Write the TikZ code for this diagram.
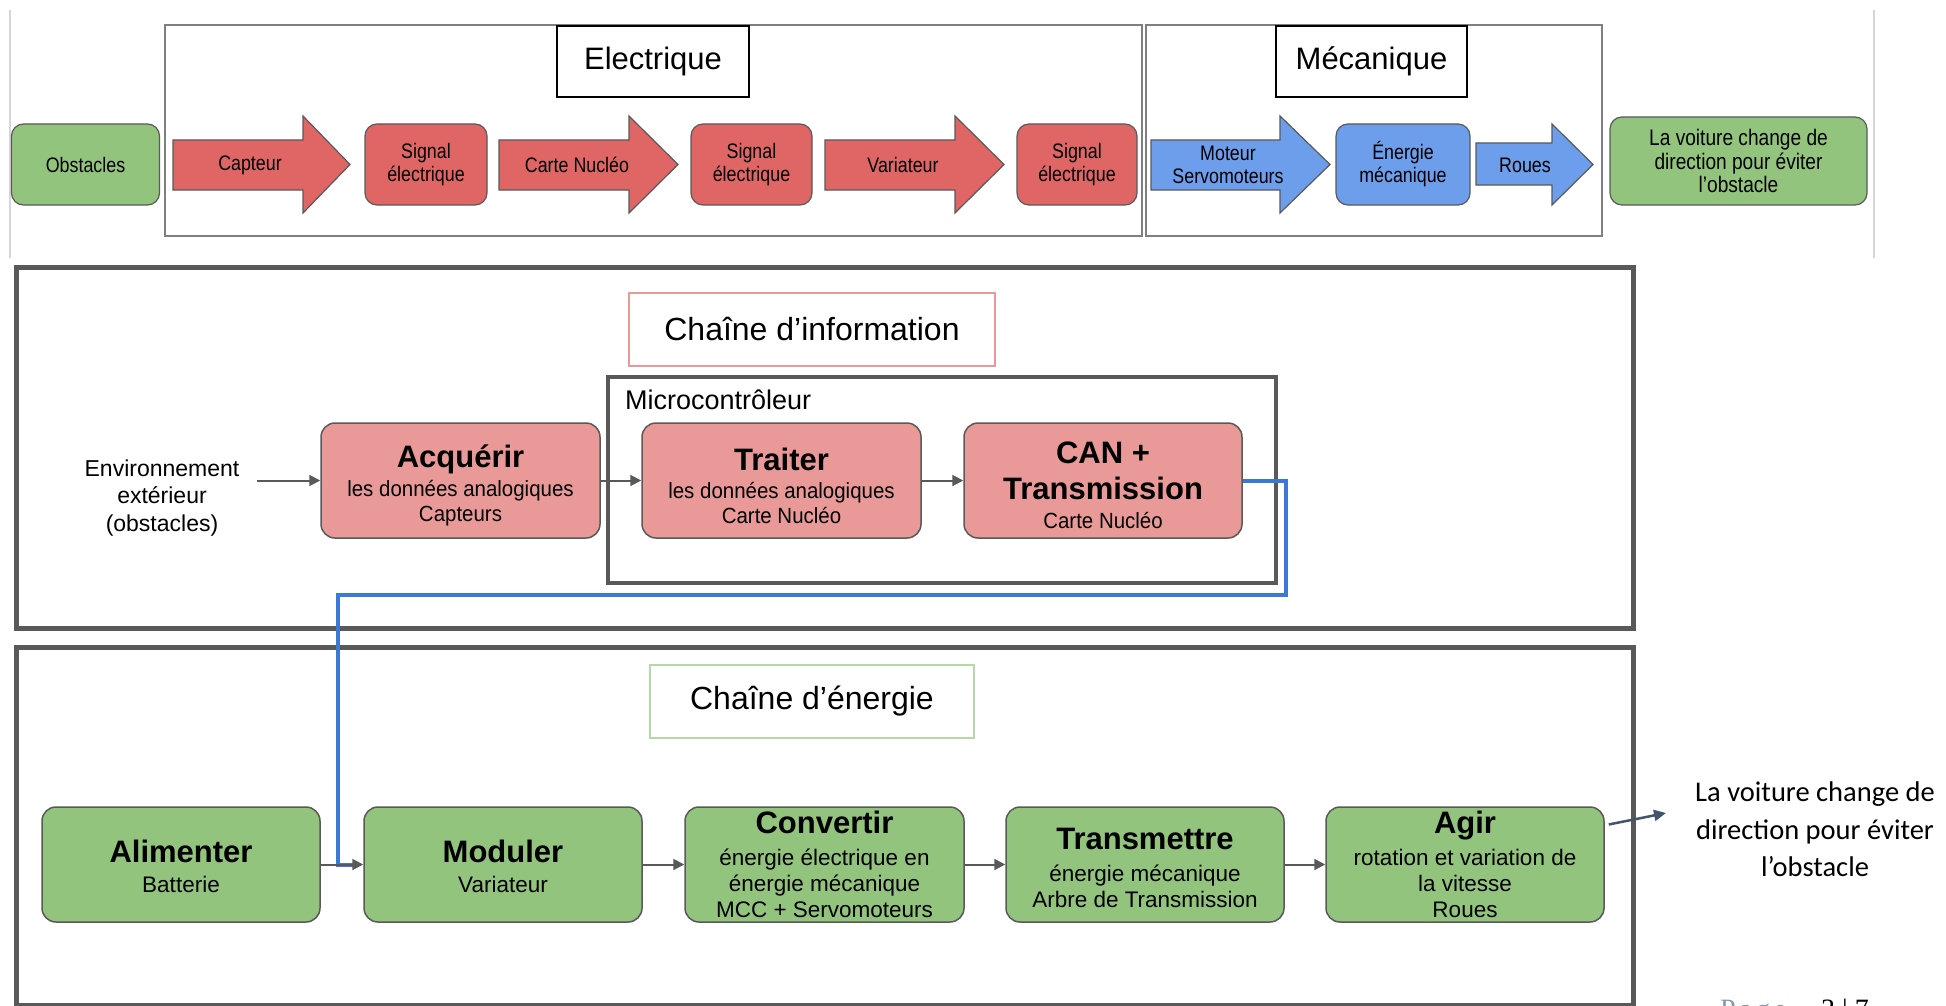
\documentclass[tikz,border=0pt]{standalone}
\usepackage{fontspec}
\setmainfont{Liberation Sans}
\newfontfamily\narrowfont[FakeStretch=0.85]{Liberation Sans}
\newfontfamily\infofont[FakeStretch=0.93]{Liberation Sans}
\newfontfamily\calibfont{Carlito}
\newfontfamily\pagefont[LetterSpace=14]{Liberation Serif}
\newfontfamily\pagenumfont{Liberation Serif}
\usetikzlibrary{arrows.meta}
\definecolor{redA}{HTML}{E06666}
\definecolor{blueA}{HTML}{6D9EEB}
\definecolor{greenA}{HTML}{93C47D}
\definecolor{pinkA}{HTML}{EA9999}
\definecolor{lgreen}{HTML}{B6D7A8}
\definecolor{dgrey}{HTML}{595959}
\definecolor{mgrey}{HTML}{7F7F7F}
\definecolor{edgegrey}{HTML}{D6D6D6}
\definecolor{bline}{HTML}{3C78D8}
\definecolor{slate}{HTML}{44546A}
\definecolor{pageblue}{HTML}{8496B0}
\newcommand\fs[2]{\fontsize{#1}{#2}\selectfont}
\newcommand\blockarr[8]{%
  \filldraw[bararrow, fill=#1] (#2,#5) -- (#3,#5) -- (#3,#7) -- (#4,{(#7+#8)/2}) -- (#3,#8) -- (#3,#6) -- (#2,#6) -- cycle;}
\tikzset{
  topbox/.style={draw=dgrey, line width=1.2pt, rounded corners=12pt, inner sep=0pt, align=center, font=\narrowfont\fs{21}{23}},
  bararrow/.style={draw=dgrey, line width=1.2pt, line join=miter},
  arrtxt/.style={inner sep=0pt, align=center, font=\narrowfont\fs{21}{23}},
  framethin/.style={draw=mgrey, line width=1.5pt},
  labelbox/.style={draw=black, line width=1.5pt, fill=white, inner sep=0pt, font=\fs{31}{36}},
  chainframe/.style={draw=dgrey, line width=5pt},
  chainlabel/.style={line width=1.5pt, fill=white, inner sep=0pt, font=\fs{32}{36}},
  infobox/.style={draw=dgrey, line width=1.5pt, rounded corners=14pt, fill=pinkA, inner sep=0pt, align=center, minimum width=279pt, minimum height=115pt, font=\infofont\fs{22}{25}},
  enbox/.style={draw=dgrey, line width=1.5pt, rounded corners=14pt, fill=greenA, inner sep=0pt, align=center, minimum width=278pt, minimum height=115pt, font=\fs{22.5}{26}},
  garrow/.style={draw=dgrey, line width=2pt, -{Triangle[length=11pt,width=11pt]}},
  outarrow/.style={draw=slate, line width=2.5pt, -{Triangle[length=12pt,width=11pt]}},
  bluelink/.style={draw=bline, line width=4pt}
}
\newcommand\ttl[1]{{\fontspec{Liberation Sans}\bfseries\fs{31}{31}#1}}
\newcommand\upstrut[1]{\rule{0pt}{#1pt}}
\begin{document}
\begin{tikzpicture}[x=1pt,y=-1pt]
\useasboundingbox (0,0) rectangle (1946,1006);
\begin{scope}
\clip (0,0) rectangle (1946,1006);

% ---------- top section ----------
\draw[draw=edgegrey, line width=2pt] (10,10) -- (10,258);
\draw[draw=edgegrey, line width=2pt] (1874,10) -- (1874,258);

\draw[framethin] (165,25) rectangle (1142,236);
\draw[framethin] (1146,25) rectangle (1602,236);
\node[labelbox, minimum width=192pt, minimum height=71pt] (elab) at (653,61.5) {Electrique};
\node[labelbox, minimum width=191pt, minimum height=71pt] (mlab) at (1371.5,61.5) {Mécanique};

\node[topbox, fill=greenA, minimum width=148pt, minimum height=81pt] (obst) at (85.5,164.5) {Obstacles};
\blockarr{redA}{173}{303}{350}{140}{190}{116}{213}
\node[arrtxt] (tcapteur) at (250,165) {Capteur};
\node[topbox, fill=redA, minimum width=122pt, minimum height=81pt] (sig1) at (426,164.5) {Signal\\électrique};
\blockarr{redA}{499}{629}{678}{140}{190}{116}{213}
\node[arrtxt] (tcarte) at (577,165) {Carte Nucléo};
\node[topbox, fill=redA, minimum width=121pt, minimum height=81pt] (sig2) at (751.5,164.5) {Signal\\électrique};
\blockarr{redA}{825}{955}{1004}{140}{190}{116}{213}
\node[arrtxt] (tvar) at (903,165) {Variateur};
\node[topbox, fill=redA, minimum width=120pt, minimum height=81pt] (sig3) at (1077,164.5) {Signal\\électrique};
\blockarr{blueA}{1151}{1280}{1330}{140}{190}{116}{213}
\node[arrtxt] (tmot) at (1228,165) {Moteur\\Servomoteurs};
\node[topbox, fill=blueA, minimum width=134pt, minimum height=81pt] (enmec) at (1403,164.5) {Énergie\\mécanique};
\blockarr{blueA}{1476}{1552}{1593}{143}{185}{124}{205}
\node[arrtxt] (troues) at (1525,165) {Roues};
\node[topbox, fill=greenA, minimum width=257pt, minimum height=88pt, font=\narrowfont\fs{22.5}{23.5}] (final) at (1738.5,161) {La voiture change de\\direction pour éviter\\l’obstacle};

% ---------- chaine d'information ----------
\draw[chainframe] (16,267) rectangle (1633,628);
\node[chainlabel, draw=pinkA, minimum width=366pt, minimum height=73pt] (infolab) at (812,329.5) {Chaîne d’information};
\draw[draw=dgrey, line width=4.5pt] (608,377) rectangle (1276,583);
\node[anchor=west, inner sep=0pt, font=\fs{27}{30}] (microlab) at (625,400) {Microcontrôleur};

\node[align=center, inner sep=0pt, font=\fs{23}{27.5}] (env) at (162,498) {Environnement\\extérieur\\(obstacles)};
\node[infobox] (acq) at (460.5,480.5) {\upstrut{33}\ttl{Acquérir}\\[3.5pt]les données analogiques\\Capteurs};
\node[infobox] (trait) at (781.5,480.5) {\upstrut{33}\ttl{Traiter}\\[3.5pt]les données analogiques\\Carte Nucléo};
\node[infobox, minimum width=278pt] (can) at (1103,480.5) {\upstrut{31}\ttl{CAN +}\\[10.5pt]\ttl{Transmission}\\[4.2pt]Carte Nucléo};

\coordinate (envout) at (257,480.5);
\draw[garrow] (envout) -- (acq.west);
\draw[garrow] (acq.east) -- (trait.west);
\draw[garrow] (trait.east) -- (can.west);

% ---------- chaine d'energie ----------
\draw[chainframe] (16,647) rectangle (1633,1005);
\node[chainlabel, draw=lgreen, minimum width=324pt, minimum height=73pt] (enlab) at (812,701.5) {Chaîne d’énergie};

\node[enbox] (alim) at (181,864.5) {\upstrut{26.5}\ttl{Alimenter}\\[4pt]Batterie};
\node[enbox] (mod) at (503,864.5) {\upstrut{26.5}\ttl{Moduler}\\[4pt]Variateur};
\node[enbox, minimum width=279pt] (conv) at (824.5,864.5) {\ttl{Convertir}\\[6pt]énergie électrique en\\énergie mécanique\\MCC + Servomoteurs};
\node[enbox] (trans) at (1145,864.5) {\upstrut{27.5}\ttl{Transmettre}\\[6pt]énergie mécanique\\Arbre de Transmission};
\node[enbox] (agir) at (1465,864.5) {\ttl{Agir}\\[6pt]rotation et variation de\\la vitesse\\Roues};

% blue link from CAN to Moduler
\coordinate (b1) at (1286,480.5);
\coordinate (b2) at (1286,595);
\coordinate (b3) at (338,595);
\coordinate (b4) at (338,864.5);
\draw[bluelink] (can.east) -- (b1) -- (b2) -- (b3) -- (b4) -- ([xshift=-6pt]mod.west);

\draw[garrow] (alim.east) -- (mod.west);
\draw[garrow] (mod.east) -- (conv.west);
\draw[garrow] (conv.east) -- (trans.west);
\draw[garrow] (trans.east) -- (agir.west);

\coordinate (outtip) at (1666,813);
\draw[outarrow] ([xshift=4pt,yshift=40pt]agir.east) -- (outtip);
\node[align=center, inner sep=0pt, font=\calibfont\fs{28.5}{37.5}] (outtxt) at (1815,829.5) {La voiture change de\\direction pour éviter\\l’obstacle};

\node[anchor=base west, inner sep=0pt, font=\pagefont\fs{28}{28}, text=pageblue] (pg) at (1720,1018) {Page};
\node[anchor=base west, inner sep=0pt, font=\pagenumfont\fs{28}{28}] (pgnum) at (1821,1018) {3 | 7};
\end{scope}
\end{tikzpicture}
\end{document}
